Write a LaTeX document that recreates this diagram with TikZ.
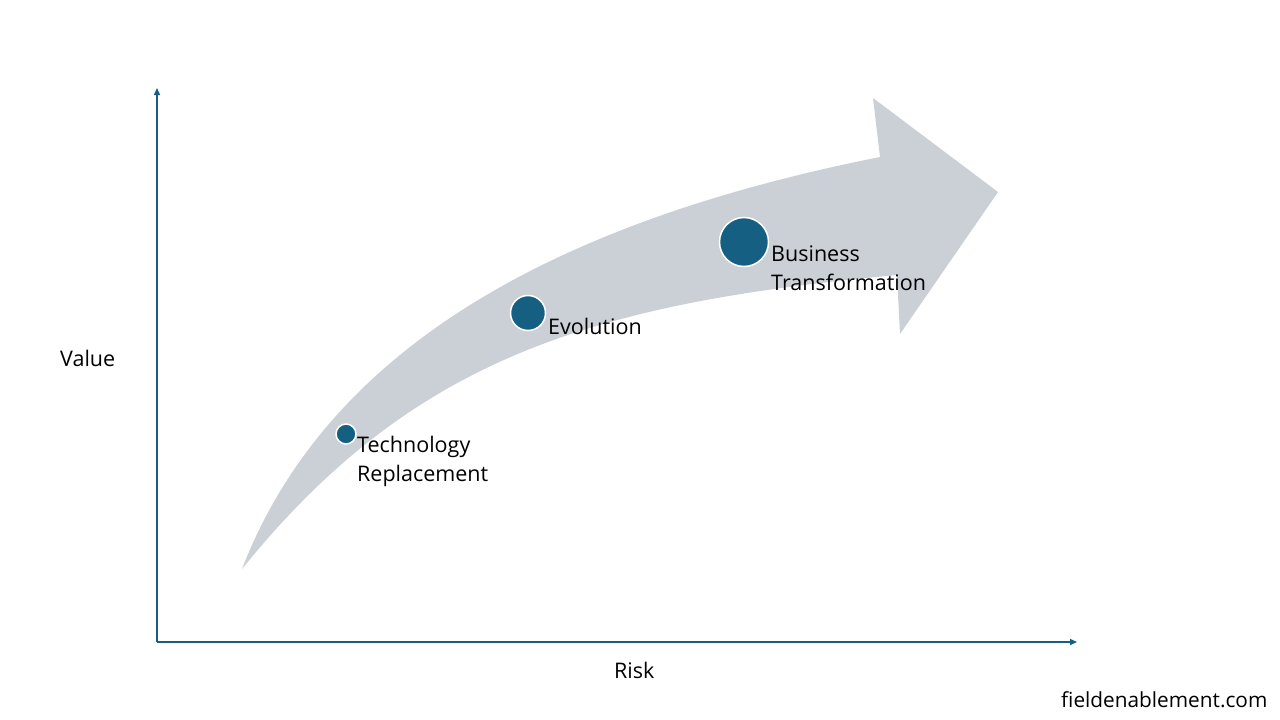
\documentclass[tikz,border=0pt]{standalone}
\usepackage{fontspec}
\setmainfont{Open Sans}
\usetikzlibrary{arrows.meta}
\definecolor{teal}{HTML}{156082}
\definecolor{band}{RGB}{203,208,214}
\tikzset{
  axis/.style={draw=teal, line width=1.4pt, -{Triangle[length=7pt,width=6pt]}},
  dot/.style={circle, fill=teal, draw=white, line width=1.5pt, inner sep=0pt},
  lbl/.style={anchor=base west, inner sep=0pt, font=\fontsize{21.5}{29}\selectfont, text=black},
  multilbl/.style={anchor=north west, inner sep=0pt, align=left, font=\fontsize{21.5}{28.5}\selectfont, text=black}
}
\begin{document}
\begin{tikzpicture}[x=1pt,y=-1pt]
\useasboundingbox (0,0) rectangle (1280,720);
\fill[white] (0,0) rectangle (1280,720);
% big curved arrow
\fill[band] (242,569) .. controls (327,349) and (553,222) .. (880,157)
  -- (873,98) -- (998,192) -- (900,334) -- (897,275)
  .. controls (594,303) and (413,357) .. (242,569) -- cycle;
% axes
\coordinate (O) at (157,642);
\coordinate (ytop) at (157,88);
\coordinate (xend) at (1077,642);
\draw[axis] (O) -- (ytop);
\draw[axis] (O) -- (xend);
% dots
\node[dot, minimum size=20pt] (tech) at (346,434) {};
\node[dot, minimum size=35pt] (evo) at (528,313) {};
\node[dot, minimum size=49pt] (bt) at (744,242) {};
% labels
\node[multilbl] (techlbl) at (357,436) {Technology\\Replacement};
\node[lbl] (evolbl) at (548,334) {Evolution};
\node[multilbl] (btlbl) at (771,246) {Business\\Transformation};
\node[lbl] (value) at (60,366) {Value};
\node[lbl] (risk) at (614,678) {Risk};
\node[lbl, font=\fontsize{20.8}{24}\selectfont] (site) at (1061,707) {fieldenablement.com};
\end{tikzpicture}
\end{document}
